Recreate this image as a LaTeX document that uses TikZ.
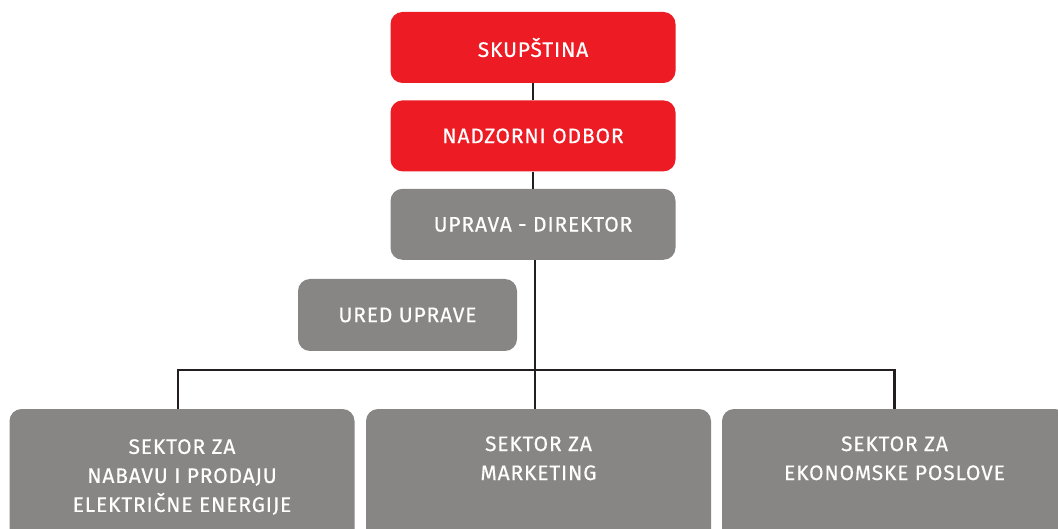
\documentclass[tikz,border=0pt]{standalone}
\usepackage{fontspec}
\setmainfont{Fira Sans}[LetterSpace=4,FakeBold=0.4]
\usepackage{tikz}
\usetikzlibrary{positioning}

\definecolor{skred}{RGB}{237,28,36}
\definecolor{skgray}{RGB}{135,134,132}
\definecolor{skline}{RGB}{35,31,32}

\begin{document}
\begin{tikzpicture}[
    x=1pt, y=-1pt,
    box/.style={
        rectangle,
        rounded corners=12pt,
        text=white,
        text centered,
        font=\fontsize{21}{29}\selectfont,
        inner sep=0pt
    },
    upper/.style={
        box,
        fill=skred,
        minimum width=285pt,
        minimum height=71pt
    },
    office/.style={
        box,
        fill=skgray,
        minimum width=285pt,
        minimum height=71pt
    },
    sector/.style={
        box,
        fill=skgray,
        align=center,
        minimum width=345pt,
        minimum height=136pt
    },
    link/.style={
        draw=skline,
        line width=2.2pt
    }
]
\useasboundingbox (0,0) rectangle (1058,529);

% top of the chart
\node[upper] (skupstina) at (533,47.5) {SKUPŠTINA};
\node[upper] (nadzor) [below=17pt of skupstina] {NADZORNI ODBOR};
\node[office] (uprava) [below=17pt of nadzor] {UPRAVA - DIREKTOR};
\node[office, minimum width=219pt, minimum height=72pt] (ured) at (407.5,315) {URED UPRAVE};

% sectors
\node[sector] (nabava) at (182,477) {SEKTOR ZA\\NABAVU I PRODAJU\\ELEKTRIČNE ENERGIJE};
\node[sector] (marketing) at (538.5,477) {SEKTOR ZA\\MARKETING\\\strut};
\node[sector] (ekonomija) at (894.5,477) {SEKTOR ZA\\EKONOMSKE POSLOVE\\\strut};

\coordinate (bar) at (535,370);

\draw[link] (skupstina) -- (nadzor);
\draw[link] (nadzor) -- (uprava);
\draw[link] ([xshift=2pt]uprava.south) -- ([xshift=2pt]uprava.south |- marketing.north);
\draw[link] ([xshift=-4pt]nabava.north) |- (bar) -| (ekonomija.north);

\end{tikzpicture}
\end{document}
